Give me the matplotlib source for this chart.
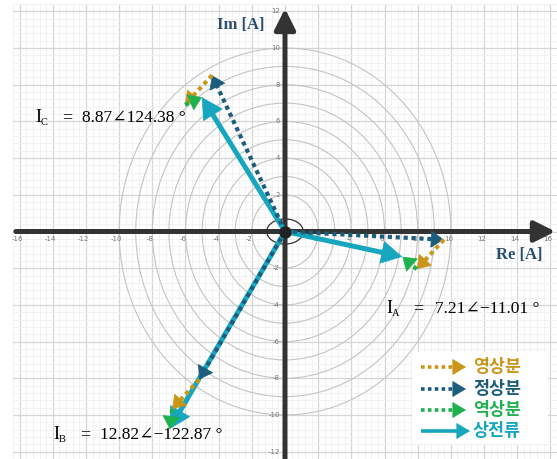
import numpy as np
import matplotlib.pyplot as plt
from matplotlib.patches import Circle, Ellipse, Rectangle, FancyArrowPatch

# phase currents (magnitude, angle in degrees)
phase_names = ['A', 'B', 'C']
phase_mag = [7.21, 12.82, 8.87]
phase_ang = [-11.01, -122.87, 124.38]

ring_radii = [2, 3, 4, 5, 6, 7, 8, 9, 10]
x_ticks = [-16, -14, -12, -10, -8, -6, -4, -2, 2, 4, 6, 8, 10, 12, 14, 16]
y_ticks = [-12, -10, -8, -6, -4, -2, 2, 4, 6, 8, 10, 12]
legend_labels = ['영상분', '정상분', '역상분', '상전류']

c_zero = '#c9961a'
c_pos = '#1c5c7c'
c_neg = '#1fb04f'
c_phase = '#16a7bf'
legend_colors = [c_zero, c_pos, c_neg, c_phase]

# symmetrical components
I = np.array(phase_mag) * np.exp(1j * np.deg2rad(phase_ang))
a = np.exp(2j * np.pi / 3)
I0 = I.sum() / 3
I1 = (I[0] + a * I[1] + a * a * I[2]) / 3
I2 = (I[0] + a * a * I[1] + a * I[2]) / 3
pos = I1 * np.array([1, a * a, a])
neg = I2 * np.array([1, a, a * a])

W, H = 557, 459
fig = plt.figure(figsize=(W / 100, H / 100), dpi=100)
ax = fig.add_axes([13 / W, 0, 544 / W, 455 / H])
ax.set_xlim(-16.23, 16.35)
ax.set_ylim(-12.38, 12.22)

ax.set_xticks(np.arange(-16, 17, 2))
ax.set_yticks(np.arange(-12, 13, 2))
ax.set_xticks(np.arange(-16.4, 16.5, 0.4), minor=True)
ax.set_yticks(np.arange(-12.4, 12.5, 0.4), minor=True)
ax.grid(which='minor', color='#f0f0f0', lw=0.6)
ax.grid(which='major', color='#d6d6d6', lw=0.9)
ax.tick_params(which='both', length=0, labelbottom=False, labelleft=False)
for s in ax.spines.values():
    s.set_visible(False)
ax.set_axisbelow(True)

for r in ring_radii:
    ax.add_patch(Circle((0, 0), r, fill=False, ec='#c4c4c4', lw=0.8, zorder=1))
ax.add_patch(Ellipse((0, 0), 2.2, 1.37, fill=False, ec='#333333', lw=0.9, zorder=2))

# tick labels next to the axes
for x in x_ticks:
    ax.text(x - 0.15, -0.4, str(x), fontsize=5, color='#777777', ha='center', va='center', zorder=2)
for y in y_ticks:
    ax.text(-0.3, y, str(y), fontsize=5, color='#777777', ha='right', va='center', zorder=2)

# coordinate axes
axis_style = dict(arrowstyle='-|>,head_length=0.9,head_width=0.45', color='#333333',
                  lw=3.6, shrinkA=0, shrinkB=0, mutation_scale=14)
ax.annotate('', xy=(16.3, 0), xytext=(-16.23, 0), arrowprops=axis_style, zorder=3)
ax.annotate('', xy=(0, 12.15), xytext=(0, -12.38), arrowprops=axis_style, zorder=3)


def arrow(p, q, color, dotted, z):
    # dotted shaft ends a little before the tip, the solid head sits on top
    if dotted:
        hl, hw, ms, lw = 12, 0.42, 14, 3.0
    else:
        hl, hw, ms, lw = 20, 0.36, 22, 3.6
    P = ax.transData.transform((p.real, p.imag))
    Q = ax.transData.transform((q.real, q.imag))
    d = (Q - P) / np.hypot(*(Q - P))
    B = ax.transData.inverted().transform(Q - d * hl * 0.7)
    near = ax.transData.inverted().transform(Q - d * 1.0)
    ls = (0, (1, 0.9)) if dotted else '-'
    ax.plot([p.real, B[0]], [p.imag, B[1]], color=color, lw=lw, ls=ls,
            dash_capstyle='butt', solid_capstyle='butt', zorder=z)
    ax.annotate('', xy=(q.real, q.imag), xytext=tuple(near),
                arrowprops=dict(arrowstyle=f'-|>,head_length={hl / 1.39 / ms:.3f},head_width={hw}',
                                color=color, lw=0.5, shrinkA=0, shrinkB=0,
                                mutation_scale=ms),
                zorder=z)


for k in range(3):
    o = 0 + 0j
    arrow(o, I[k], c_phase, False, 4)
    arrow(o, pos[k], c_pos, True, 5)
    arrow(pos[k], pos[k] + I0, c_zero, True, 5)
    arrow(pos[k] + I0, pos[k] + I0 + neg[k], c_neg, True, 5)

ax.plot(0, 0, 'o', ms=8, color='#222222', zorder=6)


def fx(x):
    return x / W


def fy(y):
    return 1 - y / H


serif = ['Liberation Serif', 'DejaVu Serif', 'DejaVu Sans']

fig.text(fx(217), fy(25), 'Im [A]', fontsize=12, fontweight='bold', family=serif,
         color='#2c4e6e', va='center')
fig.text(fx(496), fy(255), 'Re [A]', fontsize=12, fontweight='bold', family=serif,
         color='#2c4e6e', va='center')

# phasor value labels
labels = {
    'C': (35, 122, 62, 82, '8.87∠124.38 °'),
    'B': (53, 439, 80, 100, '12.82∠−122.87 °'),
    'A': (386, 313, 413, 435, '7.21∠−11.01 °'),
}
for name, (xi, yb, xeq, xv, txt) in labels.items():
    fig.text(fx(xi), fy(yb), 'I', fontsize=13, family=serif, va='baseline')
    fig.text(fx(xi + 6), fy(yb + 3), name, fontsize=7.5, family=serif, va='baseline')
    fig.text(fx(xeq), fy(yb), '=', fontsize=13, family=serif, va='baseline')
    fig.text(fx(xv), fy(yb), txt, fontsize=12.5, family=serif, va='baseline')

# legend
fig.add_artist(Rectangle((fx(412), fy(444)), (548 - 412) / W, (444 - 352) / H,
                         transform=fig.transFigure, fc='white', ec='none', zorder=2))
rows = [367, 389, 410, 431]
for i, (lab, col) in enumerate(zip(legend_labels, legend_colors)):
    y = rows[i]
    dotted = i < 3
    tip = 466 if dotted else 470
    fig.add_artist(FancyArrowPatch((fx(421), fy(y)), (fx(tip - 8), fy(y)),
                                   arrowstyle='-', color=col, lw=2.6,
                                   linestyle=(0, (1, 0.9)) if dotted else '-',
                                   capstyle='butt', transform=fig.transFigure,
                                   shrinkA=0, shrinkB=0, zorder=3))
    fig.add_artist(FancyArrowPatch((fx(tip - 9), fy(y)), (fx(tip), fy(y)),
                                   arrowstyle='-|>,head_length=0.75,head_width=0.45',
                                   color=col, lw=0.5, mutation_scale=12,
                                   transform=fig.transFigure, shrinkA=0, shrinkB=0, zorder=3))
    fig.text(fx(473), fy(y), lab, fontsize=12.5, fontweight='bold', color=col,
             family=['Noto Sans CJK KR', 'DejaVu Sans'], va='center', zorder=4)

fig.savefig('out.png', dpi=100)
